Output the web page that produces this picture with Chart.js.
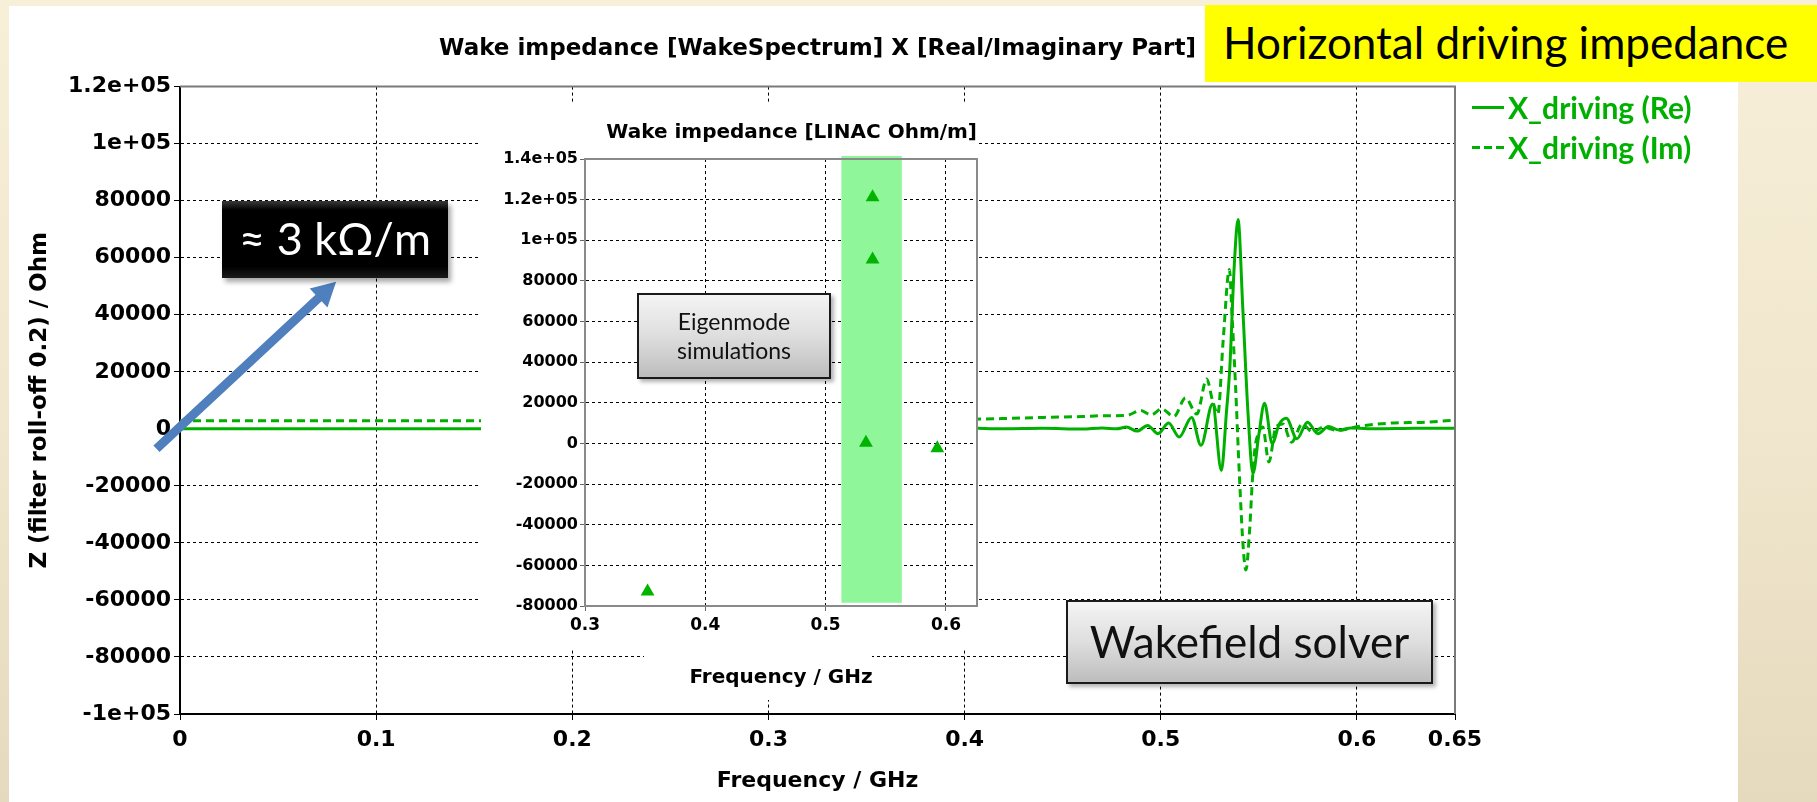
<!DOCTYPE html>
<html>
<head>
<meta charset="utf-8">
<script src="https://cdn.jsdelivr.net/npm/chart.js@4.4.0/dist/chart.umd.min.js"></script>
<style>
html, body { margin: 0; padding: 0; }
body {
    width: 1817px; height: 802px; position: relative; overflow: hidden;
    background: linear-gradient(180deg, #f8efd9 0%, #f0e6cd 55%, #e5dabd 100%);
}
#panel { position: absolute; left: 9px; top: 6px; width: 1729px; height: 796px; background: #fff; }
#main { position: absolute; left: 0; top: 0; }
#inset { position: absolute; left: 481px; top: 103px; }
.note { position: absolute; box-sizing: border-box; font-family: Lato, "Open Sans", sans-serif; text-align: center; }
#headline {
    left: 1205px; top: 5px; width: 612px; height: 77px; background: #ffff00;
    font-size: 44px; line-height: 74px; text-align: left; padding-left: 18px; color: #000;
}
#kohm {
    left: 222px; top: 201px; width: 226px; height: 77px; color: #fff; font-size: 45px; line-height: 74px;
    background: linear-gradient(180deg, #3a3a3a 0%, #000 12%, #000 85%, #1a1a1a 100%);
    box-shadow: 3px 4px 5px rgba(0,0,0,0.35);
}
.grey {
    border: 2px solid #1a1a1a; color: #111;
    background: linear-gradient(180deg, #f4f4f4 0%, #dedede 50%, #bdbdbd 100%);
    box-shadow: 3px 3px 4px rgba(0,0,0,0.3);
}
#eigen { left: 637px; top: 293px; width: 194px; height: 86px; font-size: 23px; line-height: 29px; padding-top: 12px; }
#wake { left: 1066px; top: 600px; width: 367px; height: 84px; font-size: 44px; line-height: 78px; }
#legend { position: absolute; left: 1472px; top: 87px; font-family: Lato, "Open Sans", sans-serif; font-weight: bold; font-size: 30px; color: #00b000; }
.row { height: 40px; display: flex; align-items: center; }
.swatch { width: 32px; height: 3px; margin-right: 4px; }
</style>
</head>
<body>
<div id="panel"></div>
<canvas id="main" width="1817" height="802"></canvas>
<canvas id="inset" width="497" height="597"></canvas>
<div id="legend"></div>
<div class="note" id="kohm">≈ 3 kΩ/m</div>
<div class="note grey" id="eigen">Eigenmode<br>simulations</div>
<div class="note grey" id="wake">Wakefield solver</div>
<div class="note" id="headline">Horizontal driving impedance</div>
<script>
// wakefield solver spectrum (GHz, Ohm)
const reFreq = [0, 0.05, 0.1, 0.15, 0.2, 0.25, 0.3, 0.35, 0.4, 0.42, 0.44, 0.46, 0.47, 0.4775, 0.4825, 0.4879,
    0.4933, 0.4986, 0.504, 0.5094, 0.5157, 0.5205, 0.5264, 0.5309, 0.5335, 0.5352, 0.5375, 0.5394, 0.5418,
    0.5445, 0.547, 0.55, 0.5529, 0.5568, 0.5603, 0.564, 0.5694, 0.5748, 0.5801, 0.5855, 0.5909, 0.5971,
    0.61, 0.63, 0.65];
const reZ = [0, 0, 0, 0, 100, 100, 200, 200, 300, 0, 200, -100, 300, 0, 600, -800,
    1200, -1700, 2000, -2900, 4000, -5800, 8700, -14600, 6000, 21500, 57700, 73400, 42500,
    5200, -15700, -2000, 9000, -5200, 1500, 3700, -3500, 2300, -1700, 800, -400, 300,
    0, 200, 200];

const imFreq = [0, 0.05, 0.1, 0.15, 0.2, 0.25, 0.3, 0.35, 0.4, 0.42, 0.44, 0.46, 0.47, 0.4825, 0.4897,
    0.4951, 0.5004, 0.5067, 0.5126, 0.5184, 0.5234, 0.5264, 0.5291, 0.5318, 0.535, 0.5363, 0.538,
    0.5402, 0.542, 0.5434, 0.5453, 0.5467, 0.5481, 0.5497, 0.552, 0.5551, 0.5587, 0.5622, 0.5667,
    0.5721, 0.5775, 0.5828, 0.59, 0.6007, 0.6168, 0.6347, 0.6506];
const imZ = [2800, 2800, 2800, 2800, 2900, 2900, 3000, 3100, 3300, 3600, 4000, 4300, 4600, 4700, 6400,
    4900, 7000, 4300, 10800, 5200, 17500, 9900, 5200, 30900, 55900, 40200, 16900,
    -18100, -41400, -49500, -35500, -18100, -6400, -1700, 600, -11600, 600, 1700, -4700,
    1700, -1200, 600, -600, 800, 2000, 2300, 3100];

const seriesNames = ['X_driving (Re)', 'X_driving (Im)'];
const mainXTicks = [0, 0.1, 0.2, 0.3, 0.4, 0.5, 0.6, 0.65];
const mainYTicks = [-100000, -80000, -60000, -40000, -20000, 0, 20000, 40000, 60000, 80000, 100000, 120000];
const mainYLabels = ['-1e+05', '-80000', '-60000', '-40000', '-20000', '0', '20000', '40000', '60000', '80000', '1e+05', '1.2e+05'];

// eigenmode results (GHz, Ohm/m)
const eigFreq = [0.352, 0.539, 0.539, 0.5335, 0.5928];
const eigZ = [-72850, 121200, 90550, 300, -2340];
const bandFreq = [0.5131, 0.5633];
const bandZ = [-78400, 141500];
const insetXTicks = [0.3, 0.4, 0.5, 0.6];
const insetYTicks = [-80000, -60000, -40000, -20000, 0, 20000, 40000, 60000, 80000, 100000, 120000, 140000];
const insetYLabels = ['-80000', '-60000', '-40000', '-20000', '0', '20000', '40000', '60000', '80000', '1e+05', '1.2e+05', '1.4e+05'];

const GREEN = '#00b000';
const bold = (size) => ({ family: 'DejaVu Sans', size, weight: 'bold' });
const pairs = (xs, ys) => xs.map((x, i) => ({ x, y: ys[i] }));

// top/right edges of the plot box
const frame = {
    id: 'frame',
    afterDraw(chart, args, opts) {
        const { ctx, chartArea: a } = chart;
        ctx.save();
        ctx.strokeStyle = opts.color;
        ctx.lineWidth = opts.width;
        ctx.beginPath();
        ctx.moveTo(a.left, a.top);
        ctx.lineTo(a.right, a.top);
        ctx.lineTo(a.right, a.bottom);
        ctx.stroke();
        ctx.restore();
    }
};

const arrow = {
    id: 'arrow',
    afterDatasetsDraw(chart, args, o) {
        const { ctx, scales: { x, y } } = chart;
        const x0 = x.getPixelForValue(o.from[0]), y0 = y.getPixelForValue(o.from[1]);
        const x1 = x.getPixelForValue(o.to[0]), y1 = y.getPixelForValue(o.to[1]);
        const len = Math.hypot(x1 - x0, y1 - y0);
        const hw = o.width / 2, hh = o.headWidth / 2, hl = o.headLength;
        ctx.save();
        ctx.translate(x0, y0);
        ctx.rotate(Math.atan2(y1 - y0, x1 - x0));
        ctx.fillStyle = o.color;
        ctx.beginPath();
        ctx.moveTo(0, -hw);
        ctx.lineTo(len - hl, -hw);
        ctx.lineTo(len - hl, -hh);
        ctx.lineTo(len, 0);
        ctx.lineTo(len - hl, hh);
        ctx.lineTo(len - hl, hw);
        ctx.lineTo(0, hw);
        ctx.closePath();
        ctx.fill();
        ctx.restore();
    }
};

const whiteBack = {
    id: 'whiteBack',
    beforeDraw(chart, args, o) {
        const ctx = chart.ctx;
        ctx.save();
        ctx.fillStyle = '#fff';
        o.rects.forEach(r => ctx.fillRect(r[0], r[1], r[2], r[3]));
        ctx.restore();
    }
};

const band = {
    id: 'band',
    beforeDatasetsDraw(chart, args, o) {
        const { ctx, scales: { x, y } } = chart;
        const l = x.getPixelForValue(bandFreq[0]), r = x.getPixelForValue(bandFreq[1]);
        const t = y.getPixelForValue(bandZ[1]), b = y.getPixelForValue(bandZ[0]);
        ctx.save();
        ctx.fillStyle = o.color;
        ctx.fillRect(l, t, r - l, b - t);
        ctx.restore();
    }
};

const mainChart = new Chart(document.getElementById('main'), {
    type: 'scatter',
    data: {
        datasets: [{
            label: seriesNames[0],
            data: pairs(reFreq, reZ),
            showLine: true, borderColor: GREEN, borderWidth: 3, pointRadius: 0,
            cubicInterpolationMode: 'monotone'
        }, {
            label: seriesNames[1],
            data: pairs(imFreq, imZ),
            showLine: true, borderColor: GREEN, borderWidth: 3, borderDash: [8, 5], pointRadius: 0,
            cubicInterpolationMode: 'monotone'
        }]
    },
    options: {
        responsive: false, animation: false, devicePixelRatio: 1,
        layout: { autoPadding: false, padding: { left: 0, right: 362, top: 35, bottom: 0 } },
        plugins: {
            legend: { display: false },
            tooltip: { enabled: false },
            title: {
                display: true, fullSize: false, color: '#000', font: bold(23),
                text: 'Wake impedance [WakeSpectrum] X [Real/Imaginary Part]',
                padding: { top: 0, bottom: 24 }
            },
            frame: { color: '#7a7a7a', width: 2 },
            arrow: { from: [-0.012, -7000], to: [0.0796, 51600], color: '#4f7fbd', width: 9, headWidth: 26, headLength: 24 }
        },
        scales: {
            x: {
                type: 'linear', min: 0, max: 0.65,
                afterFit: s => { s.height = 88; },
                afterBuildTicks: s => { s.ticks = mainXTicks.map(v => ({ value: v })); },
                ticks: { callback: (v, i) => String(mainXTicks[i]), font: bold(22), color: '#000', padding: 7, maxRotation: 0, autoSkip: false },
                grid: { color: '#000', lineWidth: 1, tickLength: 6, tickColor: '#000' },
                border: { color: '#000', width: 2, dash: [3, 3] },
                title: { display: true, text: 'Frequency / GHz', font: bold(22), color: '#000', padding: { top: 0, bottom: 8 } }
            },
            y: {
                min: -100000, max: 120000,
                afterFit: s => { s.width = 180; },
                afterBuildTicks: s => { s.ticks = mainYTicks.map(v => ({ value: v })); },
                ticks: { callback: (v, i) => mainYLabels[i], font: bold(22), color: '#000', padding: 3, autoSkip: false },
                grid: { color: '#000', lineWidth: 1, tickLength: 6, tickColor: '#000' },
                border: { color: '#000', width: 2, dash: [3, 3] },
                title: { display: true, text: 'Z (filter roll-off 0.2) / Ohm', font: bold(23), color: '#000', padding: { top: 26, bottom: 0 } }
            }
        }
    },
    plugins: [frame, arrow]
});

new Chart(document.getElementById('inset'), {
    type: 'scatter',
    data: {
        datasets: [{
            label: 'Eigenmode',
            data: pairs(eigFreq, eigZ),
            pointStyle: 'triangle', pointRadius: 8, backgroundColor: '#00b400', borderWidth: 0
        }]
    },
    options: {
        responsive: false, animation: false, devicePixelRatio: 1,
        layout: { autoPadding: false, padding: { left: 0, right: 1, top: 18, bottom: 0 } },
        plugins: {
            legend: { display: false },
            tooltip: { enabled: false },
            title: {
                display: true, fullSize: false, align: 'end', color: '#000', font: bold(20),
                text: 'Wake impedance [LINAC Ohm/m]',
                padding: { top: 0, bottom: 14 }
            },
            whiteBack: { rects: [[0, 0, 497, 547], [163, 547, 228, 50]] },
            band: { color: '#8ff79a' },
            frame: { color: '#8a8a8a', width: 2 }
        },
        scales: {
            x: {
                type: 'linear', min: 0.3, max: 0.6258,
                afterFit: s => { s.height = 94; },
                afterBuildTicks: s => { s.ticks = insetXTicks.map(v => ({ value: v })); },
                ticks: { callback: (v, i) => String(insetXTicks[i]), font: bold(17), color: '#000', padding: 4, maxRotation: 0, autoSkip: false },
                grid: { color: '#000', lineWidth: 1, tickLength: 5, tickColor: '#666' },
                border: { color: '#8a8a8a', width: 2, dash: [3, 3] },
                title: { display: true, text: 'Frequency / GHz', font: bold(20), color: '#000', padding: { top: 0, bottom: 10 } }
            },
            y: {
                min: -80000, max: 140000,
                afterFit: s => { s.width = 104; },
                afterBuildTicks: s => { s.ticks = insetYTicks.map(v => ({ value: v })); },
                ticks: { callback: (v, i) => insetYLabels[i], font: bold(16), color: '#000', padding: 2, autoSkip: false },
                grid: { color: '#000', lineWidth: 1, tickLength: 5, tickColor: '#666' },
                border: { color: '#8a8a8a', width: 2, dash: [3, 3] }
            }
        }
    },
    plugins: [whiteBack, band, frame]
});

// legend built from the series
const legend = document.getElementById('legend');
mainChart.data.datasets.forEach(ds => {
    const row = document.createElement('div');
    row.className = 'row';
    const sw = document.createElement('div');
    sw.className = 'swatch';
    sw.style.background = ds.borderDash
        ? 'repeating-linear-gradient(90deg, ' + GREEN + ' 0 8px, transparent 8px 12px)'
        : GREEN;
    const txt = document.createElement('span');
    txt.textContent = ds.label;
    row.appendChild(sw);
    row.appendChild(txt);
    legend.appendChild(row);
});
</script>
</body>
</html>
